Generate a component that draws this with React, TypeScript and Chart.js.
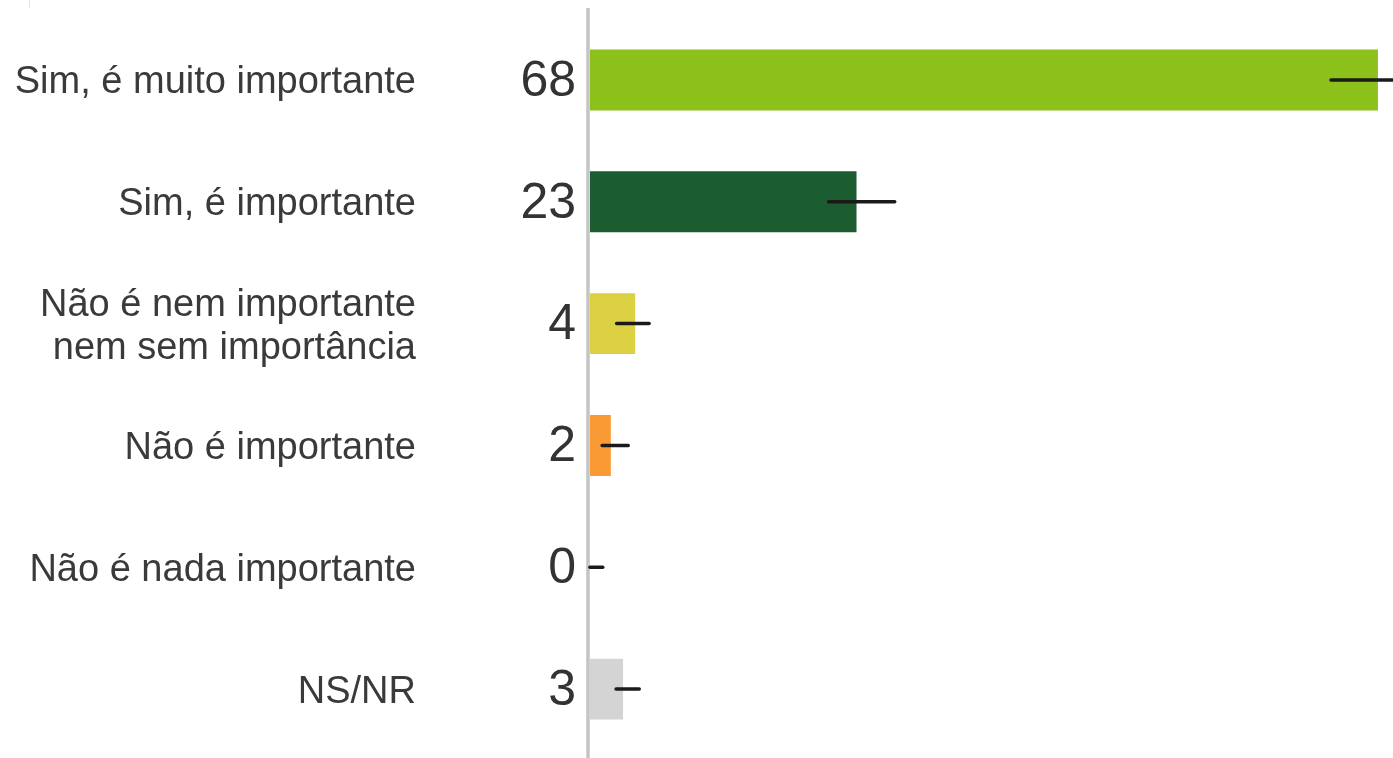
import React, { useEffect, useRef } from "react";
import { Chart, registerables } from "chart.js";

Chart.register(...registerables);

const categories: (string | string[])[] = [
  "Sim, é muito importante",
  "Sim, é importante",
  ["Não é nem importante", "nem sem importância"],
  "Não é importante",
  "Não é nada importante",
  "NS/NR",
];
const values = [68.0, 23.0, 3.9, 1.8, 0, 2.85];
const valueLabels = ["68", "23", "4", "2", "0", "3"];
const errorLower = [63.95, 20.6, 2.3, 1.05, 0, 2.25];
const errorUpper = [72.0, 26.3, 5.1, 3.3, 1.1, 4.25];
const barColors = ["#8cc11b", "#1b5c30", "#dcd142", "#f99a35", "#d4d4d4", "#d4d4d4"];
const xMax = 69.3;

const FONT = "'Liberation Sans', Arial, sans-serif";

const overlayPlugin = {
  id: "overlay",
  beforeDatasetsDraw(chart: any) {
    const { ctx, chartArea } = chart;
    ctx.save();
    ctx.strokeStyle = "#c4c4c4";
    ctx.lineWidth = 3.5;
    ctx.beginPath();
    ctx.moveTo(chartArea.left - 2, 8);
    ctx.lineTo(chartArea.left - 2, chart.height);
    ctx.stroke();
    ctx.strokeStyle = "#e2e2e2";
    ctx.lineWidth = 1;
    ctx.beginPath();
    ctx.moveTo(29.5, 0);
    ctx.lineTo(29.5, 8);
    ctx.stroke();
    ctx.restore();
  },
  afterDatasetsDraw(chart: any) {
    const { ctx, chartArea } = chart;
    const xs = chart.scales.x;
    const ys = chart.scales.y;
    ctx.save();
    ctx.strokeStyle = "#1a1a1a";
    ctx.lineWidth = 3.5;
    ctx.lineCap = "round";
    for (let i = 0; i < values.length; i++) {
      const y = ys.getPixelForValue(i);
      const x1 = Math.max(xs.getPixelForValue(errorLower[i]), chartArea.left - 1);
      const x2 = xs.getPixelForValue(errorUpper[i]);
      ctx.beginPath();
      ctx.moveTo(x1, y);
      ctx.lineTo(x2, y);
      ctx.stroke();
    }
    ctx.fillStyle = "#333333";
    ctx.font = `50px ${FONT}`;
    ctx.textAlign = "right";
    ctx.textBaseline = "middle";
    for (let i = 0; i < values.length; i++) {
      const y = ys.getPixelForValue(i);
      ctx.fillText(valueLabels[i], chartArea.left - 14, y + 2);
    }
    ctx.restore();
  },
};

export default function App() {
  const canvasRef = useRef<HTMLCanvasElement | null>(null);

  useEffect(() => {
    if (!canvasRef.current) return;
    const chart = new Chart(canvasRef.current, {
      type: "bar",
      data: {
        labels: categories as any,
        datasets: [
          {
            data: values,
            backgroundColor: barColors,
            borderWidth: 0,
            barPercentage: 0.5,
            categoryPercentage: 1,
          },
        ],
      },
      options: {
        indexAxis: "y",
        animation: false,
        responsive: true,
        maintainAspectRatio: false,
        layout: { padding: { top: 19, bottom: 8, left: 0, right: 0 } },
        plugins: {
          legend: { display: false },
          tooltip: { enabled: false },
        },
        scales: {
          x: {
            display: false,
            min: 0,
            max: xMax,
          },
          y: {
            type: "category",
            grid: { display: false, drawTicks: false },
            border: { display: false },
            ticks: {
              color: "#3a3a3a",
              font: { family: FONT, size: 38, lineHeight: 1.13 },
              padding: 174,
              labelOffset: 3,
              autoSkip: false,
            },
            afterFit: (scale: any) => {
              scale.width = 590;
              scale.paddingTop = 0;
              scale.paddingBottom = 0;
            },
          },
        },
      },
      plugins: [overlayPlugin],
    });
    return () => chart.destroy();
  }, []);

  return (
    <div style={{ position: "fixed", left: 0, top: 0, width: 1393, height: 758, background: "#fff" }}>
      <canvas ref={canvasRef} />
    </div>
  );
}
